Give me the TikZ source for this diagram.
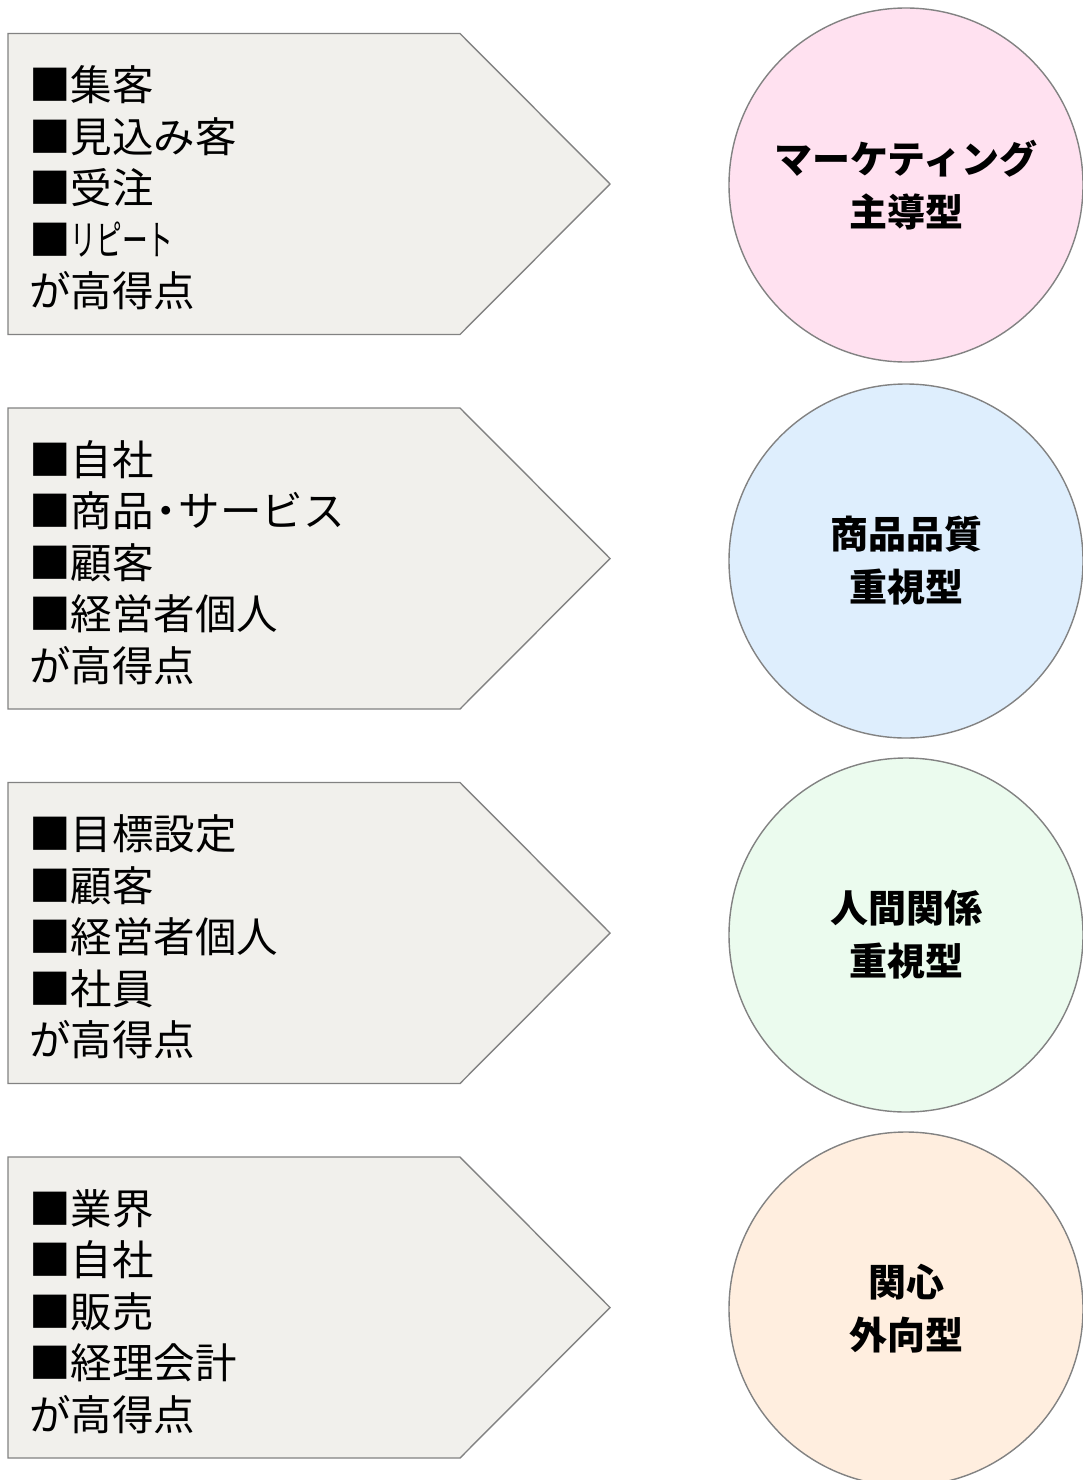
\documentclass[tikz,border=0pt]{standalone}
\usepackage{fontspec}
\usepackage{graphicx}
\setmainfont{Noto Sans CJK JP}
\definecolor{boxfill}{HTML}{F1F0EC}
\definecolor{edge}{HTML}{828282}
\definecolor{cpink}{HTML}{FFE1F0}
\definecolor{cblue}{HTML}{DEEEFD}
\definecolor{cgreen}{HTML}{EBFBEE}
\definecolor{cpeach}{HTML}{FFEEDF}
\tikzset{
  pentabox/.style={draw=edge, fill=boxfill, line width=1.4pt},
  listtext/.style={anchor=west, align=left, inner sep=0pt, font=\fontsize{41.5}{51.5}\selectfont},
  typecircle/.style={circle, draw=edge, line width=1.4pt, minimum size=354pt, inner sep=0pt, align=center, font=\fontsize{38}{53}\selectfont\bfseries}
}
\newcommand{\nakaguro}{\kern-0.2em・\kern-0.2em}
\begin{document}
\begin{tikzpicture}[x=1pt,y=-1pt]
\useasboundingbox (0,0) rectangle (1082,1480);
\fill[white] (0,0) rectangle (1082,1480);
\foreach \c in {184,558.5,933,1307.5}{
  \draw[pentabox] (8,\c-150.5) -- (460,\c-150.5) -- (610,\c) -- (460,\c+150.5) -- (8,\c+150.5) -- cycle;
}
\node[listtext] (t1) at (29,188) {■集客\\■見込み客\\■受注\\■\scalebox{0.62}[1]{リピート}\\が高得点};
\node[listtext] (t2) at (29,562.5) {■自社\\■商品\nakaguro サービス\\■顧客\\■経営者個人\\が高得点};
\node[listtext] (t3) at (29,937) {■目標設定\\■顧客\\■経営者個人\\■社員\\が高得点};
\node[listtext] (t4) at (29,1311.5) {■業界\\■自社\\■販売\\■経理会計\\が高得点};
\node[typecircle, fill=cpink] (c1) at (906,185) {マーケティング\\主導型};
\node[typecircle, fill=cblue] (c2) at (906,561) {商品品質\\重視型};
\node[typecircle, fill=cgreen] (c3) at (906,935) {人間関係\\重視型};
\node[typecircle, fill=cpeach] (c4) at (906,1309) {関心\\外向型};
\end{tikzpicture}
\end{document}
